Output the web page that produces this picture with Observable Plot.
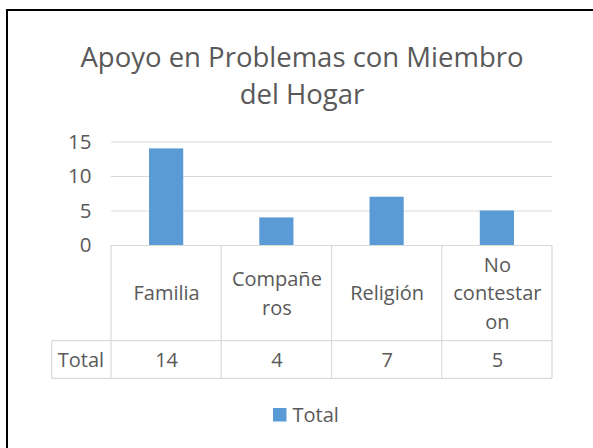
<!DOCTYPE html>
<html><head><meta charset="utf-8">
<script src="https://cdn.jsdelivr.net/npm/d3@7"></script>
<script src="https://cdn.jsdelivr.net/npm/@observablehq/plot@0.6"></script>
<style>
body{margin:0;background:#fff;}
#wrap{position:relative;width:593px;height:448px;overflow:hidden;font-family:"Open Sans",sans-serif;color:#595959;background:#fff;}
#chart{position:absolute;left:0;top:0;}
#title{position:absolute;left:0;width:604px;top:38px;text-align:center;font-size:27.5px;line-height:37px;white-space:nowrap;}
#legend{position:absolute;left:273px;top:398px;}
#border{position:absolute;left:6px;top:9px;width:700px;height:600px;border-left:2px solid #000;border-top:2px solid #000;}
.lg-swatches{font-family:"Open Sans",sans-serif !important;font-size:20px !important;color:#595959;margin:0 !important;}
.lg-swatch{margin-right:0 !important;}
.lg-swatch > svg{margin-right:6px !important;}
</style></head>
<body><div id="wrap"><div id="chart"></div><div id="title">Apoyo en Problemas con Miembro<br>del Hogar</div><div id="legend"></div><div id="border"></div></div>
<script>
const categories = ["Familia", "Compañeros", "Religión", "No contestaron"];
const categoryLabels = ["Familia", "Compañe\nros", "Religión", "No\ncontestar\non"];
const totals = [14, 4, 7, 5];
const seriesName = "Total";
const yTicks = [0, 5, 10, 15];

const barColor = "#5b9bd5";
const gridColor = "#d9d9d9";
const textColor = "#595959";

const data = categories.map((c, i) => ({category: c, label: categoryLabels[i], value: totals[i]}));

const plot = Plot.plot({
  width: 593,
  height: 448,
  marginLeft: 111,
  marginRight: 41,
  marginTop: 141.5,
  marginBottom: 203,
  style: {background: "none", fontFamily: "Open Sans", color: textColor},
  x: {domain: categories, paddingInner: 0.69, paddingOuter: 0.345, round: false, axis: null},
  y: {domain: [0, 15], axis: null},
  marks: [
    Plot.ruleY(yTicks, {stroke: gridColor, strokeWidth: 1.2}),
    Plot.barY(data, {x: "category", y: "value", fill: barColor}),
    Plot.axisY({ticks: yTicks, tickSize: 0, tickPadding: 20, fontSize: 20.5, color: textColor, label: null}),
    Plot.text(data, {x: "category", text: "label", frameAnchor: "bottom", dy: 45.8, lineAnchor: "middle", lineHeight: 1.425, fontSize: 20, fill: textColor}),
    Plot.text(data, {x: "category", text: d => String(d.value), frameAnchor: "bottom", dy: 115.3, lineAnchor: "middle", fontSize: 20, fill: textColor}),
    Plot.text([seriesName], {frameAnchor: "bottom-left", dx: -53.7, dy: 115.3, textAnchor: "start", lineAnchor: "middle", fontSize: 20, fill: textColor})
  ]
});

// data table grid lines, positioned from the plot's own scales
const xs = plot.scale("x");
const ys = plot.scale("y");
const [left, right] = xs.range;
const n = categories.length;
const y0 = ys.apply(0);
const row1 = 95.7, row2 = 37.6, totalLeft = 51.7;
const g = d3.select(plot).append("g").attr("stroke", gridColor).attr("stroke-width", 1.2).attr("fill", "none");
for (let i = 0; i <= n; i++) {
  const x = left + i * (right - left) / n;
  g.append("line").attr("x1", x).attr("x2", x).attr("y1", y0).attr("y2", y0 + row1 + row2);
}
g.append("line").attr("x1", totalLeft).attr("x2", right).attr("y1", y0 + row1).attr("y2", y0 + row1);
g.append("line").attr("x1", totalLeft).attr("x2", right).attr("y1", y0 + row1 + row2).attr("y2", y0 + row1 + row2);
g.append("line").attr("x1", totalLeft).attr("x2", totalLeft).attr("y1", y0 + row1).attr("y2", y0 + row1 + row2);

document.getElementById("chart").appendChild(plot);

const legend = Plot.legend({
  color: {type: "ordinal", domain: [seriesName], range: [barColor]},
  legend: "swatches",
  swatchSize: 13.5,
  className: "lg"
});
document.getElementById("legend").appendChild(legend);
</script>
</body></html>
